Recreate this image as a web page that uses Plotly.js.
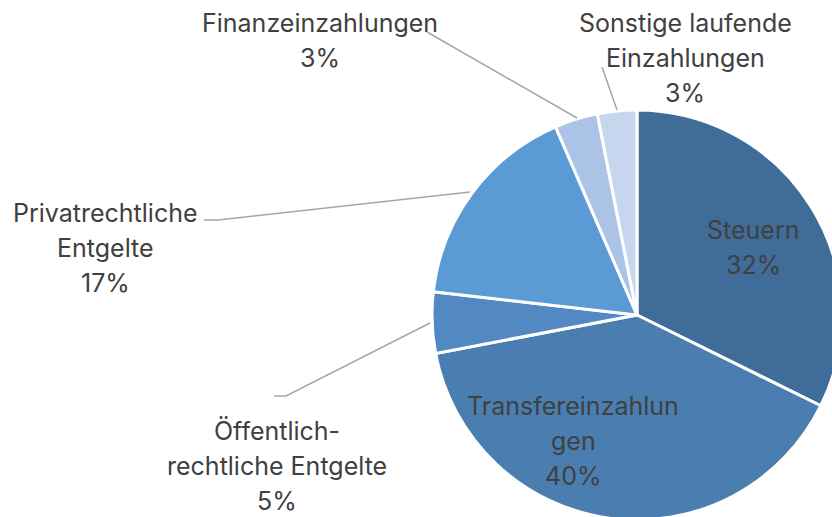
<!DOCTYPE html>
<html>
<head>
<meta charset="utf-8">
<script src="https://cdn.plot.ly/plotly-3.0.1.min.js"></script>
<style>
html,body{margin:0;padding:0;overflow:hidden;background:#fff;}
#chart{width:900px;height:600px;}
</style>
</head>
<body>
<div id="chart"></div>
<script>
const categories = ["Steuern", "Transfereinzahlungen", "Öffentlich-rechtliche Entgelte", "Privatrechtliche Entgelte", "Finanzeinzahlungen", "Sonstige laufende Einzahlungen"];
const labelLines = [["Steuern"], ["Transfereinzahlun", "gen"], ["Öffentlich-", "rechtliche Entgelte"], ["Privatrechtliche", "Entgelte"], ["Finanzeinzahlungen"], ["Sonstige laufende", "Einzahlungen"]];
const values = [32.3, 39.7, 4.8, 16.7, 3.4, 3.1];
const colors = ["#3F6C98", "#4A7EB0", "#5289C2", "#5B9BD5", "#ABC3E6", "#C6D6EE"];

const W = 900, H = 600;
const fx = x => x / W;
const fy = y => 1 - y / H;

const total = values.reduce((a, b) => a + b, 0);
const pct = values.map(v => Math.round(v / total * 100) + "%");

// first-line centre of each label block (pixels) and line step
const labelPos = [[753, 230], [573, 406], [277, 431], [105, 213], [320, 23], [685, 23]];
const STEP = 35;

const annotations = [];
labelPos.forEach((p, i) => {
  const lines = labelLines[i].concat([pct[i]]);
  lines.forEach((t, k) => {
    annotations.push({
      x: fx(p[0]), y: fy(p[1] + k * STEP), xref: "paper", yref: "paper",
      xanchor: "center", yanchor: "middle", showarrow: false,
      text: t,
      font: {family: "Inter, Lato, sans-serif", size: 25, color: "#404040"}
    });
  });
});

const leaderPts = [
  null, null,
  [[274, 396], [286, 396], [430, 323]],
  [[204, 220], [218, 220], [470, 192]],
  [[427, 32], [577, 118]],
  [[602, 67], [617, 110]]
];
const shapes = [];
leaderPts.forEach(pts => {
  if (!pts) return;
  const path = pts.map((p, i) => (i ? "L" : "M") + fx(p[0]) + "," + fy(p[1])).join(" ");
  shapes.push({type: "path", xref: "paper", yref: "paper", path: path,
    line: {color: "#A6A6A6", width: 1.5}});
});

const trace = {
  type: "pie",
  labels: categories,
  values: values,
  sort: false,
  direction: "clockwise",
  rotation: 0,
  textinfo: "none",
  hoverinfo: "label+percent",
  marker: {colors: colors, line: {color: "#FFFFFF", width: 3}},
  domain: {x: [432 / W, 842 / W], y: [1 - 520 / H, 1 - 110 / H]},
  showlegend: false
};

Plotly.newPlot("chart", [trace], {
  width: W, height: H,
  margin: {l: 0, r: 0, t: 0, b: 0},
  paper_bgcolor: "#FFFFFF",
  annotations: annotations,
  shapes: shapes,
  showlegend: false
}, {displayModeBar: false, staticPlot: true});
</script>
</body>
</html>
